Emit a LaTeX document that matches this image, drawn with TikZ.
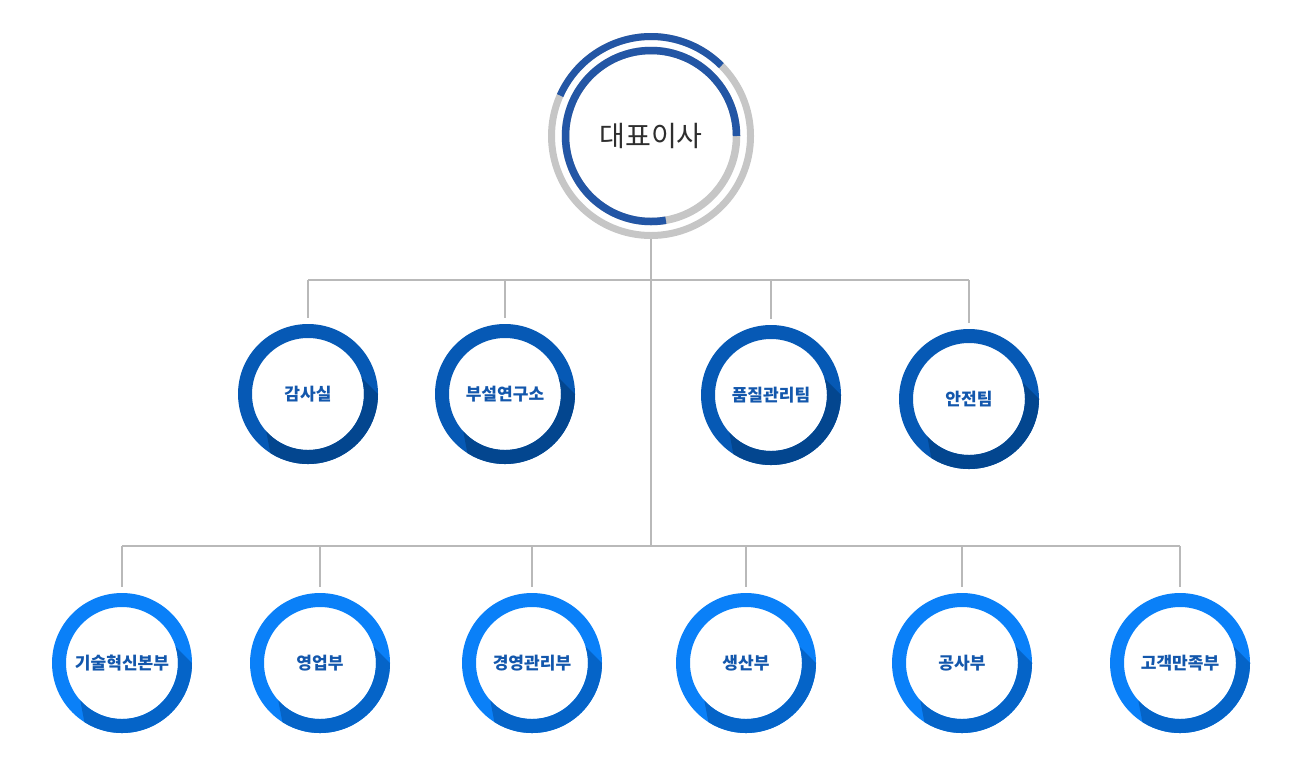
\documentclass[tikz,border=0pt]{standalone}
\usepackage{fontspec}
\newfontfamily\kr{Noto Sans CJK KR}
\definecolor{lineg}{HTML}{B9B9B9}
\definecolor{ceoblue}{HTML}{2356A5}
\definecolor{ceogray}{HTML}{C6C6C6}
\definecolor{ceotext}{HTML}{2E2E2E}
\definecolor{teamblue}{HTML}{0659B5}
\definecolor{teamdark}{HTML}{03468F}
\definecolor{deptblue}{HTML}{0A80F8}
\definecolor{deptdark}{HTML}{0564C8}
\definecolor{labelblue}{HTML}{1357AC}

\tikzset{
  unit/.style={circle, minimum size=3.04cm, inner sep=0pt, text=labelblue,
    font=\kr\bfseries\fontsize{9.7}{11}\selectfont},
  link/.style={draw=lineg, line width=0.045cm},
}

\begin{document}
\begin{tikzpicture}[x=0.02cm,y=-0.02cm]
\useasboundingbox (0,0) rectangle (1300,782);

% head
\node[circle, minimum size=4.12cm, inner sep=0pt, text=ceotext,
  font=\kr\fontsize{16}{18}\selectfont] (ceo) at (651,136) {대표이사};
\draw[ceogray, line width=0.14cm] (ceo.center) circle (99.5);
\draw[ceoblue, line width=0.14cm] ([shift={(-45:99.5)}]ceo.center) arc[start angle=-45, end angle=-156, radius=99.5];
\draw[ceogray, line width=0.15cm] (ceo.center) circle (85.5);
\draw[ceoblue, line width=0.15cm] ([shift={(0:85.5)}]ceo.center) arc[start angle=0, end angle=-280, radius=85.5];

% teams
\node[unit] (gam) at (308,394) {감사실};
\node[unit] (yeon) at (505,394) {부설연구소};
\node[unit] (pum) at (771,395) {품질관리팀};
\node[unit] (anj) at (969,399) {안전팀};

% departments
\node[unit] (gisul) at (122,663) {기술혁신본부};
\node[unit] (yeong) at (320,663) {영업부};
\node[unit] (gyeong) at (532,663) {경영관리부};
\node[unit] (saeng) at (746,663) {생산부};
\node[unit] (gong) at (962,663) {공사부};
\node[unit] (gogaek) at (1180,663) {고객만족부};

% rings
\foreach \n/\c/\d in {gam/teamblue/teamdark,yeon/teamblue/teamdark,pum/teamblue/teamdark,anj/teamblue/teamdark,
  gisul/deptblue/deptdark,yeong/deptblue/deptdark,gyeong/deptblue/deptdark,saeng/deptblue/deptdark,
  gong/deptblue/deptdark,gogaek/deptblue/deptdark}{
  \draw[\c, line width=0.28cm] (\n.center) circle (63);
  \begin{scope}[shift={(\n.center)}, even odd rule]
    \clip (0,0) circle (70) (0,0) circle (56);
    \fill[\d] (40,-30) -- (110,40) -- (110,110) -- (-28,110) -- (-45,20) -- (0,0) -- cycle;
  \end{scope}
}

% lines
\coordinate (topbar) at (651,280);
\coordinate (lowbar) at (651,546);
\draw[link] (ceo) -- (lowbar);
\draw[link] (topbar -| gam) -- (topbar -| anj);
\foreach \n in {gam,yeon,pum,anj} \draw[link] (topbar -| \n) -- (\n);
\draw[link] (lowbar -| gisul) -- (lowbar -| gogaek);
\foreach \n in {gisul,yeong,gyeong,saeng,gong,gogaek} \draw[link] (lowbar -| \n) -- (\n);
\end{tikzpicture}
\end{document}
